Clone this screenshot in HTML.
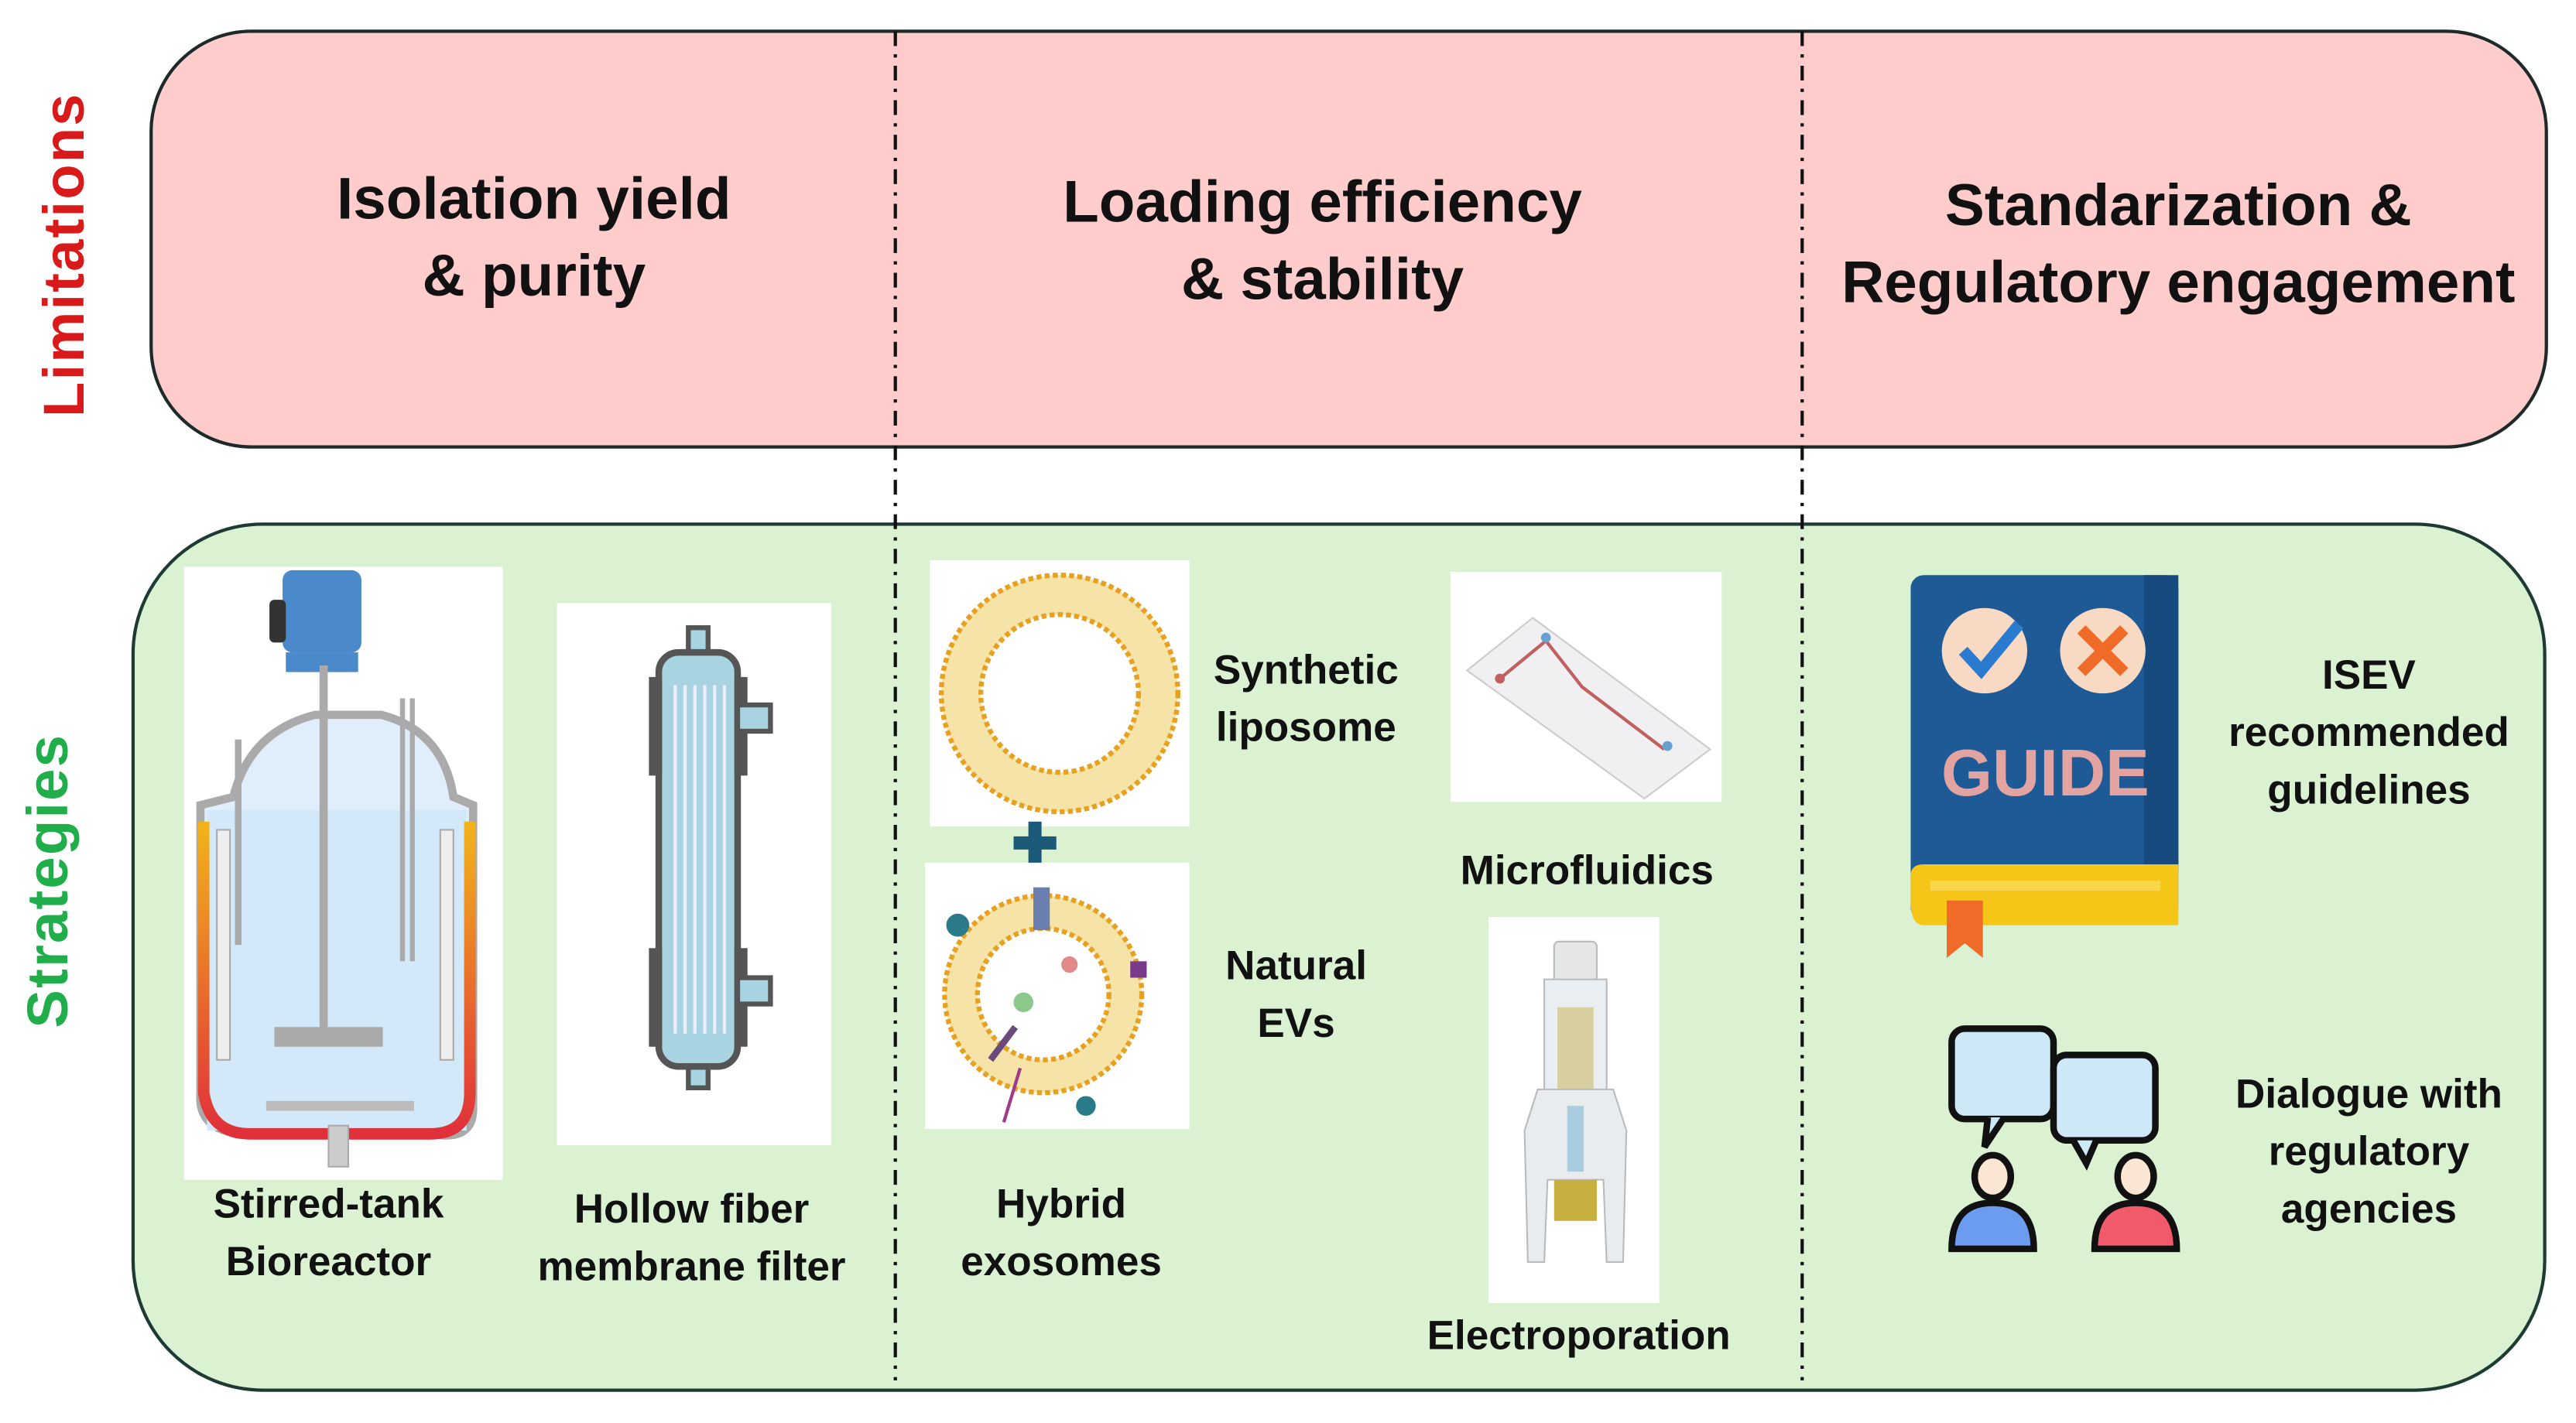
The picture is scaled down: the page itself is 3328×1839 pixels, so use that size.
<!DOCTYPE html>
<html><head><meta charset="utf-8"><style>
html,body{margin:0;padding:0;background:#fff;}
body{width:3328px;height:1839px;overflow:hidden;position:relative;}
#s{position:absolute;left:0;top:0;width:1568px;height:866px;transform-origin:0 0;transform:scale(2.1224,2.1236);font-family:"Liberation Sans",sans-serif;font-weight:bold;color:#111;}
.a{position:absolute;}
.t{position:absolute;text-align:center;white-space:nowrap;transform:translateX(-50%);}
.h{font-size:36px;line-height:47px;}
.l{font-size:25px;line-height:35px;}
.w{position:absolute;background:#fff;}
</style></head><body><div id="s">
<div class="a" style="left:91px;top:18px;width:1460px;height:255px;background:#ffcccc;border:2px solid #1e2a2a;border-radius:62px;box-sizing:border-box;"></div>
<div class="a" style="left:80px;top:318px;width:1470px;height:529px;background:#daf2d2;border:2px solid #1e3a34;border-radius:80px;box-sizing:border-box;"></div>
<svg class="a" style="left:0;top:0" width="1568" height="866">
<line x1="545" y1="19" x2="545" y2="840" stroke="#111" stroke-width="2" stroke-dasharray="9,5,2,5"/>
<line x1="1097" y1="19" x2="1097" y2="840" stroke="#111" stroke-width="2" stroke-dasharray="9,5,2,5"/>
</svg>
<div class="a" style="left:40px;top:155px;transform:translate(-50%,-50%) rotate(-90deg);color:#d91a1a;font-size:35px;white-space:nowrap;letter-spacing:1px;">Limitations</div>
<div class="a" style="left:30px;top:536px;transform:translate(-50%,-50%) rotate(-90deg);color:#1fae4a;font-size:35px;white-space:nowrap;letter-spacing:1px;">Strategies</div>
<div class="t h" style="left:325px;top:97px;">Isolation yield<br>&amp; purity</div>
<div class="t h" style="left:805px;top:99px;">Loading efficiency<br>&amp; stability</div>
<div class="t h" style="left:1326px;top:101px;">Standarization &amp;<br>Regulatory engagement</div>

<!-- bioreactor -->
<div class="w" style="left:112px;top:345px;width:194px;height:373px;"></div>
<svg class="a" style="left:112px;top:345px" width="194" height="373">
<rect x="60" y="2" width="48" height="50" rx="6" fill="#4a8acb"/><rect x="52" y="20" width="10" height="26" rx="3" fill="#333"/>
<rect x="62" y="52" width="44" height="12" fill="#4a8acb"/>
<path d="M10 145 L30 140 Q40 100 80 90 L120 90 Q158 100 164 140 L176 145 L176 330 Q176 350 150 345 L40 345 Q8 345 10 320 Z" fill="#dfeefa" stroke="#aaa" stroke-width="5"/>
<rect x="14" y="148" width="158" height="195" fill="#d3e8f8"/>
<path d="M12 155 L12 320 Q16 345 40 345 L150 345 Q174 345 174 320 L174 155" fill="none" stroke="url(#g)" stroke-width="7"/>
<defs><linearGradient id="g" x1="0" y1="0" x2="0" y2="1"><stop offset="0" stop-color="#f2b41b"/><stop offset="1" stop-color="#e0303a"/></linearGradient></defs>
<line x1="85" y1="60" x2="85" y2="290" stroke="#aaa" stroke-width="5"/>
<rect x="55" y="280" width="66" height="12" fill="#aaa"/>
<line x1="33" y1="105" x2="33" y2="230" stroke="#aaa" stroke-width="4"/>
<line x1="133" y1="80" x2="133" y2="240" stroke="#aaa" stroke-width="3"/><line x1="139" y1="80" x2="139" y2="240" stroke="#aaa" stroke-width="3"/>
<rect x="20" y="160" width="8" height="140" fill="#eee" stroke="#aaa"/><rect x="156" y="160" width="8" height="140" fill="#eee" stroke="#aaa"/>
<rect x="50" y="325" width="90" height="6" fill="#bbb"/>
<rect x="88" y="340" width="12" height="25" fill="#ccc" stroke="#aaa"/>
</svg>
<div class="t l" style="left:200px;top:716px;">Stirred-tank<br>Bioreactor</div>

<!-- hollow fiber -->
<div class="w" style="left:339px;top:367px;width:167px;height:330px;"></div>
<svg class="a" style="left:339px;top:367px" width="167" height="330">
<rect x="80" y="15" width="12" height="20" fill="#a8d4e2" stroke="#555" stroke-width="3"/>
<rect x="80" y="275" width="12" height="20" fill="#a8d4e2" stroke="#555" stroke-width="3"/>
<rect x="62" y="30" width="48" height="252" rx="12" fill="#a8d4e2" stroke="#555" stroke-width="4"/>
<rect x="56" y="45" width="8" height="60" fill="#555"/><rect x="108" y="45" width="8" height="60" fill="#555"/>
<rect x="56" y="210" width="8" height="60" fill="#555"/><rect x="108" y="210" width="8" height="60" fill="#555"/>
<rect x="110" y="62" width="20" height="16" fill="#a8d4e2" stroke="#555" stroke-width="3"/>
<rect x="110" y="228" width="20" height="16" fill="#a8d4e2" stroke="#555" stroke-width="3"/>
<g stroke="#eef" stroke-width="2"><line x1="72" y1="50" x2="72" y2="262"/><line x1="78" y1="50" x2="78" y2="262"/><line x1="84" y1="50" x2="84" y2="262"/><line x1="90" y1="50" x2="90" y2="262"/><line x1="96" y1="50" x2="96" y2="262"/><line x1="102" y1="50" x2="102" y2="262"/></g>
</svg>
<div class="t l" style="left:421px;top:719px;">Hollow fiber<br>membrane filter</div>

<!-- liposome -->
<div class="w" style="left:566px;top:341px;width:158px;height:162px;"></div>
<svg class="a" style="left:566px;top:341px" width="158" height="162">
<circle cx="79" cy="81" r="60" fill="#fff" stroke="#f5e3a8" stroke-width="24"/>
<circle cx="79" cy="81" r="72" fill="none" stroke="#e8a020" stroke-width="3" stroke-dasharray="3,2"/>
<circle cx="79" cy="81" r="48" fill="none" stroke="#e8a020" stroke-width="3" stroke-dasharray="3,2"/>
</svg>
<div class="t l" style="left:795px;top:391px;">Synthetic<br>liposome</div>
<div class="a" style="left:617px;top:509px;width:26px;height:8px;background:#1c5a7a;"></div>
<div class="a" style="left:626px;top:500px;width:8px;height:26px;background:#1c5a7a;"></div>

<!-- natural EVs -->
<div class="w" style="left:563px;top:525px;width:161px;height:162px;"></div>
<svg class="a" style="left:563px;top:525px" width="161" height="162">
<circle cx="72" cy="80" r="50" fill="#fff" stroke="#f5e3a8" stroke-width="20"/>
<circle cx="72" cy="80" r="60" fill="none" stroke="#e8a020" stroke-width="3" stroke-dasharray="3,2"/>
<circle cx="72" cy="80" r="40" fill="none" stroke="#e8a020" stroke-width="3" stroke-dasharray="3,2"/>
<rect x="66" y="15" width="10" height="26" fill="#6a7fb0"/><circle cx="20" cy="38" r="7" fill="#2a7a8a"/>
<circle cx="98" cy="148" r="6" fill="#2a7a8a"/><rect x="125" y="60" width="10" height="10" fill="#7a3a8a"/>
<circle cx="60" cy="85" r="6" fill="#8bc98b"/><circle cx="88" cy="62" r="5" fill="#e08a8a"/>
<line x1="40" y1="120" x2="55" y2="100" stroke="#6a4a7a" stroke-width="4"/><line x1="58" y1="125" x2="48" y2="158" stroke="#a03a8a" stroke-width="2"/>
</svg>
<div class="t l" style="left:789px;top:571px;">Natural<br>EVs</div>
<div class="t l" style="left:646px;top:716px;">Hybrid<br>exosomes</div>

<!-- microfluidics -->
<div class="w" style="left:883px;top:348px;width:165px;height:140px;"></div>
<svg class="a" style="left:883px;top:348px" width="165" height="140">
<path d="M10 60 L50 28 L158 108 L118 138 Z" fill="#f0f0f2" stroke="#ccc"/>
<path d="M30 65 L58 42 L80 70 L130 108" fill="none" stroke="#c06060" stroke-width="2"/>
<circle cx="30" cy="65" r="3" fill="#c06060"/><circle cx="58" cy="40" r="3" fill="#6aa0d0"/><circle cx="132" cy="106" r="3" fill="#6aa0d0"/>
</svg>
<div class="t l" style="left:966px;top:513px;">Microfluidics</div>

<!-- electroporation -->
<div class="w" style="left:906px;top:558px;width:104px;height:235px;"></div>
<svg class="a" style="left:906px;top:558px" width="104" height="235">
<rect x="40" y="15" width="26" height="25" rx="3" fill="#e4e6e8" stroke="#bbb"/>
<rect x="34" y="38" width="38" height="70" fill="#e8eef2" stroke="#bbb"/>
<rect x="42" y="55" width="22" height="60" fill="#d8cfa0"/>
<path d="M30 105 L76 105 L84 130 L82 210 L72 210 L70 160 L36 160 L34 210 L24 210 L22 130 Z" fill="#e8ecef" stroke="#bbb"/>
<rect x="48" y="115" width="10" height="40" fill="#a8cce0"/>
<rect x="40" y="160" width="26" height="25" fill="#c8b040"/>
</svg>
<div class="t l" style="left:961px;top:796px;">Electroporation</div>

<!-- guide book -->
<svg class="a" style="left:1163px;top:348px" width="166" height="240">
<rect x="0" y="2" width="163" height="210" rx="8" fill="#1e5a96"/>
<rect x="142" y="2" width="21" height="180" fill="#174b80"/>
<path d="M8 178 L163 178 L163 215 L8 215 Q0 215 0 200 L0 185 Q0 178 8 178 Z" fill="#f5c518"/>
<rect x="12" y="188" width="140" height="6" fill="#f8d84a"/>
<path d="M22 200 L44 200 L44 235 L33 226 L22 235 Z" fill="#f06a28"/>
<circle cx="45" cy="48" r="26" fill="#f7d9c4"/><path d="M32 48 L43 60 L66 32" fill="none" stroke="#2a7ad0" stroke-width="7"/>
<circle cx="117" cy="48" r="26" fill="#f7d9c4"/><path d="M104 35 L130 61 M130 35 L104 61" stroke="#f06a28" stroke-width="7"/>
<text x="82" y="136" text-anchor="middle" font-family="Liberation Sans,sans-serif" font-weight="bold" font-size="40" fill="#e3a3a0">GUIDE</text>
</svg>
<div class="t l" style="left:1442px;top:394px;">ISEV<br>recommended<br>guidelines</div>

<!-- dialogue -->
<svg class="a" style="left:1180px;top:620px" width="150" height="145">
<rect x="8" y="6" width="62" height="55" rx="8" fill="#cde8f6" stroke="#111" stroke-width="4"/>
<path d="M30 60 L28 78 L40 60" fill="#cde8f6" stroke="#111" stroke-width="4"/>
<rect x="70" y="22" width="62" height="52" rx="8" fill="#cde8f6" stroke="#111" stroke-width="4"/>
<path d="M82 74 L90 88 L96 74" fill="#cde8f6" stroke="#111" stroke-width="4"/>
<ellipse cx="33" cy="96" rx="11" ry="13" fill="#fbe6d4" stroke="#111" stroke-width="4"/>
<ellipse cx="120" cy="96" rx="11" ry="13" fill="#fbe6d4" stroke="#111" stroke-width="4"/>
<path d="M8 140 Q8 112 33 112 Q58 112 58 140 Z" fill="#6c9cf0" stroke="#111" stroke-width="4"/>
<path d="M95 140 Q95 112 120 112 Q145 112 145 140 Z" fill="#f05a6a" stroke="#111" stroke-width="4"/>
</svg>
<div class="t l" style="left:1442px;top:649px;">Dialogue with<br>regulatory<br>agencies</div>
</div></body></html>
